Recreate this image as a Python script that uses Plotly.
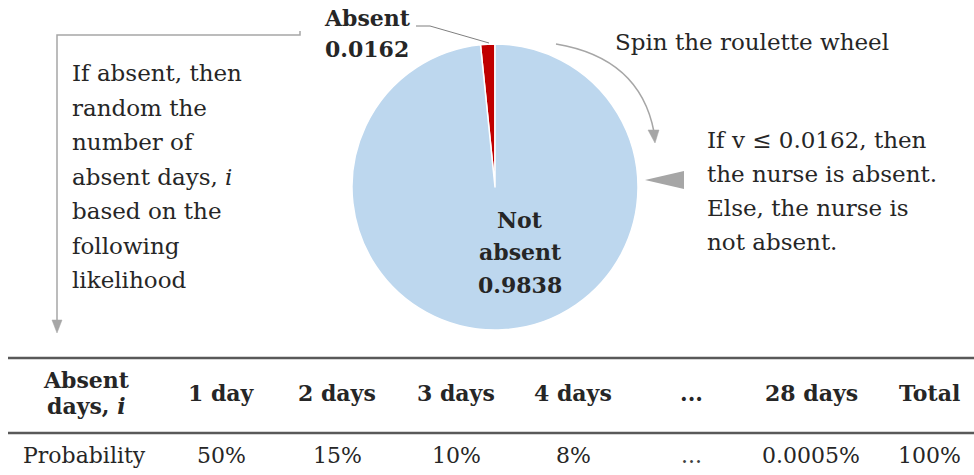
import plotly.graph_objects as go

# ---- data ----
pie_labels = ["Absent", "Not absent"]
pie_values = [0.0162, 0.9838]
pie_colors = ["#C00000", "#BDD7EE"]

day_labels = ["1 day", "2 days", "3 days", "4 days", "...", "28 days", "Total"]
day_probs = ["50%", "15%", "10%", "8%", "...", "0.0005%", "100%"]

left_note = ["If absent, then", "random the", "number of", "absent days, <i>i</i>",
             "based on the", "following", "likelihood"]
right_note = ["If v \u2264 0.0162, then", "the nurse is absent.", "Else, the nurse is", "not absent."]
spin_note = "Spin the roulette wheel"

W, H = 974, 475
FONT = "DejaVu Serif"
GREY = "#A6A6A6"
TXT = "#262626"
BODY = 23
BOLD = 22

fig = go.Figure()

# pie (Absent slice sits just left of 12 o'clock)
cx, cy, r = 495, 187, 143
fig.add_trace(go.Pie(
    labels=pie_labels, values=pie_values, sort=False, direction="clockwise",
    rotation=-360 * pie_values[0] / sum(pie_values),
    textinfo="none", hoverinfo="label+value", showlegend=False,
    marker=dict(colors=pie_colors, line=dict(color="white", width=1.5)),
    domain=dict(x=[(cx - r) / W, (cx + r) / W], y=[1 - (cy + r) / H, 1 - (cy - r) / H]),
))

# invisible axes in pixel coordinates
fig.update_xaxes(range=[0, W], visible=False, fixedrange=True)
fig.update_yaxes(range=[H, 0], visible=False, fixedrange=True)
fig.add_trace(go.Scatter(x=[0, W], y=[0, H], mode="markers", marker=dict(opacity=0),
                         hoverinfo="skip", showlegend=False))

ann = []
def txt(x, y, s, size=BODY, bold=False, xanchor="center", color=TXT):
    if bold:
        s = "<b>" + s + "</b>"
    ann.append(dict(x=x, y=y, xref="x", yref="y", text=s, showarrow=False,
                    xanchor=xanchor, yanchor="middle",
                    font=dict(family=FONT, size=size, color=color)))

# pie labels
txt(367, 18, pie_labels[0], bold=True, size=BOLD)
txt(367, 49, f"{pie_values[0]:.4f}", bold=True, size=BOLD)
txt(520, 220, "Not", bold=True, size=BOLD)
txt(520, 252, "absent", bold=True, size=BOLD)
txt(520, 285, f"{pie_values[1]:.4f}", bold=True, size=BOLD)

# left note
for i, s in enumerate(left_note):
    txt(70, 73 + i * 34.5, s, xanchor="left")
# spin note
txt(613, 42, spin_note, xanchor="left")
# right note
for i, s in enumerate(right_note):
    txt(705, 140 + i * 34, s, xanchor="left")

# table
col_x = [221, 337, 456, 573, 691, 811, 929]
txt(86, 380, "Absent", bold=True, size=BOLD)
txt(86, 406, "days, <i>i</i>", bold=True, size=BOLD)
for x, s in zip(col_x, day_labels):
    txt(x, 393, s, bold=True, size=BOLD)
txt(84, 455, "Probability", size=BOLD)
for x, s in zip(col_x, day_probs):
    txt(x, 455, s, size=BOLD, color="#404040" if s == "..." else TXT)

shapes = []
# table rules
shapes.append(dict(type="line", xref="x", yref="y", x0=8, x1=W, y0=358, y1=358,
                   line=dict(color="#595959", width=2.5)))
shapes.append(dict(type="line", xref="x", yref="y", x0=8, x1=W, y0=433, y1=433,
                   line=dict(color="#595959", width=2.5)))
# left bracket arrow
shapes.append(dict(type="path", xref="x", yref="y",
                   path="M 300,31 L 300,35 L 57,35 L 57,322",
                   line=dict(color=GREY, width=1.5)))
shapes.append(dict(type="path", xref="x", yref="y",
                   path="M 52,320 L 62,320 L 57,333 Z",
                   fillcolor=GREY, line=dict(color=GREY, width=0.5)))
# absent label leader
shapes.append(dict(type="path", xref="x", yref="y",
                   path="M 416,26 L 430,26 L 489,43",
                   line=dict(color="#7F7F7F", width=1)))
# curved spin arrow
shapes.append(dict(type="path", xref="x", yref="y",
                   path="M 556,44 Q 640,58 654,132",
                   line=dict(color=GREY, width=1.5)))
shapes.append(dict(type="path", xref="x", yref="y",
                   path="M 648,130 L 659,130 L 655,143 Z",
                   fillcolor=GREY, line=dict(color=GREY, width=0.5)))
# big pointer triangle
shapes.append(dict(type="path", xref="x", yref="y",
                   path="M 645,180 L 684,171 L 684,189 Z",
                   fillcolor=GREY, line=dict(color=GREY, width=0)))

fig.update_layout(
    width=W, height=H, margin=dict(l=0, r=0, t=0, b=0),
    paper_bgcolor="white", plot_bgcolor="white",
    annotations=ann, shapes=shapes, showlegend=False,
)

fig.write_html("out.html", config={"displayModeBar": False},
               post_script="document.body.style.margin='0';")
